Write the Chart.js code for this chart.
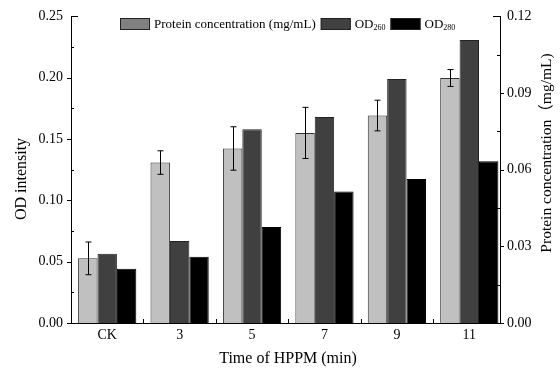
<!DOCTYPE html>
<html>
<head>
<meta charset="utf-8">
<script src="https://cdn.jsdelivr.net/npm/chart.js@4"></script>
<style>
  body { margin: 0; background: #fff; }
  #wrap { width: 560px; height: 371px; position: relative; }
</style>
</head>
<body>
<div id="wrap"><canvas id="chart"></canvas></div>
<script>
const categories = ['CK', '3', '5', '7', '9', '11'];
const proteinConc = [0.0253, 0.0628, 0.0683, 0.0744, 0.0812, 0.0959];
const proteinErr = [0.0064, 0.0046, 0.0085, 0.0100, 0.0060, 0.0033];
const od260 = [0.0564, 0.0668, 0.1580, 0.1680, 0.1990, 0.2307];
const od280 = [0.0442, 0.0540, 0.0782, 0.1072, 0.1175, 0.1319];

const serif = "'Liberation Serif', 'Times New Roman', 'Noto Sans CJK SC', serif";
Chart.defaults.font.family = serif;
Chart.defaults.color = '#000';

const toPoints = (arr) => arr.map((v, i) => ({ x: i, y: v }));

// error bars on the protein series (right axis)
const errorBars = {
    id: 'errorBars',
    afterDatasetsDraw(chart) {
        const ctx = chart.ctx;
        const ys = chart.scales.y2;
        const meta = chart.getDatasetMeta(0);
        ctx.save();
        ctx.strokeStyle = '#000';
        ctx.lineWidth = 1;
        meta.data.forEach((bar, i) => {
            const x = Math.round(bar.x) + 0.5;
            const top = ys.getPixelForValue(proteinConc[i] + proteinErr[i]);
            const bot = ys.getPixelForValue(proteinConc[i] - proteinErr[i]);
            ctx.beginPath();
            ctx.moveTo(x, top); ctx.lineTo(x, bot);
            ctx.moveTo(x - 3, top); ctx.lineTo(x + 3, top);
            ctx.moveTo(x - 3, bot); ctx.lineTo(x + 3, bot);
            ctx.stroke();
        });
        ctx.restore();
    }
};

// tick marks: major outward, minor inward, category separators upward
const axisTicks = {
    id: 'axisTicks',
    afterDraw(chart) {
        const ctx = chart.ctx;
        const area = chart.chartArea;
        ctx.save();
        ctx.strokeStyle = '#000';
        ctx.lineWidth = 1;
        ctx.beginPath();
        ['y', 'y2'].forEach((id) => {
            const s = chart.scales[id];
            const x = id === 'y' ? area.left : area.right;
            const dir = id === 'y' ? -1 : 1;
            s.ticks.forEach((t, i) => {
                const y = Math.round(s.getPixelForValue(t.value)) + 0.5;
                if (i === s.ticks.length - 1) {
                    ctx.moveTo(x, y); ctx.lineTo(x - dir * 7, y);
                } else if (i % 2 === 0) {
                    ctx.moveTo(x, y); ctx.lineTo(x + dir * 4, y);
                } else {
                    ctx.moveTo(x, y); ctx.lineTo(x - dir * 3, y);
                }
            });
        });
        const xs = chart.scales.x;
        for (let i = 0; i < categories.length - 1; i++) {
            const x = Math.round(xs.getPixelForValue(i + 0.5)) + 0.5;
            ctx.moveTo(x, area.bottom); ctx.lineTo(x, area.bottom - 4);
        }
        ctx.stroke();
        ctx.restore();
    }
};

const legendItems = [
    { text: 'Protein concentration (mg/mL)', sub: '', color: '#808080' },
    { text: 'OD', sub: '260', color: '#404040' },
    { text: 'OD', sub: '280', color: '#000000' }
];

const customLegend = {
    id: 'customLegend',
    afterDraw(chart) {
        const ctx = chart.ctx;
        ctx.save();
        let x = 120;
        const y = 18;
        ctx.textBaseline = 'middle';
        legendItems.forEach((item) => {
            ctx.fillStyle = item.color;
            ctx.fillRect(x, y, 30, 12);
            ctx.strokeStyle = '#222';
            ctx.lineWidth = 1;
            ctx.strokeRect(x + 0.5, y + 0.5, 29, 11);
            x += 34;
            ctx.fillStyle = '#000';
            ctx.font = '13px ' + serif;
            ctx.fillText(item.text, x, y + 6.5);
            x += ctx.measureText(item.text).width;
            if (item.sub) {
                ctx.font = '8px ' + serif;
                ctx.fillText(item.sub, x, y + 10);
                x += ctx.measureText(item.sub).width;
            }
            x += 5;
        });
        ctx.restore();
    }
};

const axisTitles = {
    id: 'axisTitles',
    afterDraw(chart) {
        const ctx = chart.ctx;
        ctx.save();
        ctx.fillStyle = '#000';
        ctx.textAlign = 'center';
        ctx.textBaseline = 'middle';
        ctx.font = '16px ' + serif;
        ctx.fillText('Time of HPPM (min)', 288, 359);

        ctx.save();
        ctx.translate(22, 179);
        ctx.rotate(-Math.PI / 2);
        ctx.fillText('OD intensity', 0, 0);
        ctx.restore();

        ctx.save();
        ctx.translate(547, 153);
        ctx.rotate(-Math.PI / 2);
        ctx.font = '15.5px ' + serif;
        ctx.fillText('Protein concentration（mg/mL)', 0, 0);
        ctx.restore();
        ctx.restore();
    }
};

const tickFont = { size: 14, family: serif };

new Chart(document.getElementById('chart'), {
    type: 'bar',
    data: {
        datasets: [
            {
                label: 'Protein concentration (mg/mL)',
                data: toPoints(proteinConc),
                yAxisID: 'y2',
                backgroundColor: '#c0c0c0',
                borderColor: '#333',
                borderWidth: 1
            },
            {
                label: 'OD260',
                data: toPoints(od260),
                yAxisID: 'y',
                backgroundColor: '#404040',
                borderColor: '#222',
                borderWidth: 1
            },
            {
                label: 'OD280',
                data: toPoints(od280),
                yAxisID: 'y',
                backgroundColor: '#000000',
                borderColor: '#000',
                borderWidth: 1
            }
        ]
    },
    options: {
        responsive: true,
        maintainAspectRatio: false,
        animation: false,
        categoryPercentage: 0.804,
        barPercentage: 1,
        layout: { padding: { top: 16, left: 0, right: 0, bottom: 0 } },
        plugins: {
            legend: { display: false },
            tooltip: { enabled: false }
        },
        scales: {
            x: {
                type: 'linear',
                offset: false,
                min: -0.5,
                max: 5.424,
                afterBuildTicks: (s) => { s.ticks = categories.map((_, i) => ({ value: i })); },
                afterFit: (s) => { s.height = 48; },
                ticks: {
                    callback: (v) => categories[v],
                    font: tickFont,
                    padding: 4,
                    maxRotation: 0,
                    autoSkip: false
                },
                grid: { display: false, drawTicks: false, offset: false },
                border: { display: true, color: '#000', width: 1 }
            },
            y: {
                position: 'left',
                min: 0,
                max: 0.25,
                afterFit: (s) => { s.width = 71; },
                ticks: {
                    stepSize: 0.025,
                    font: tickFont,
                    padding: 8,
                    callback: (v, i) => (i % 2 === 0 ? v.toFixed(2) : '')
                },
                grid: { display: false, drawTicks: false },
                border: { display: true, color: '#000', width: 1 }
            },
            y2: {
                position: 'right',
                min: 0,
                max: 0.12,
                afterFit: (s) => { s.width = 60; },
                ticks: {
                    stepSize: 0.015,
                    font: tickFont,
                    padding: 7,
                    callback: (v, i) => (i % 2 === 0 ? v.toFixed(2) : '')
                },
                grid: { display: false, drawTicks: false },
                border: { display: true, color: '#000', width: 1 }
            }
        }
    },
    plugins: [errorBars, axisTicks, customLegend, axisTitles]
});
</script>
</body>
</html>
